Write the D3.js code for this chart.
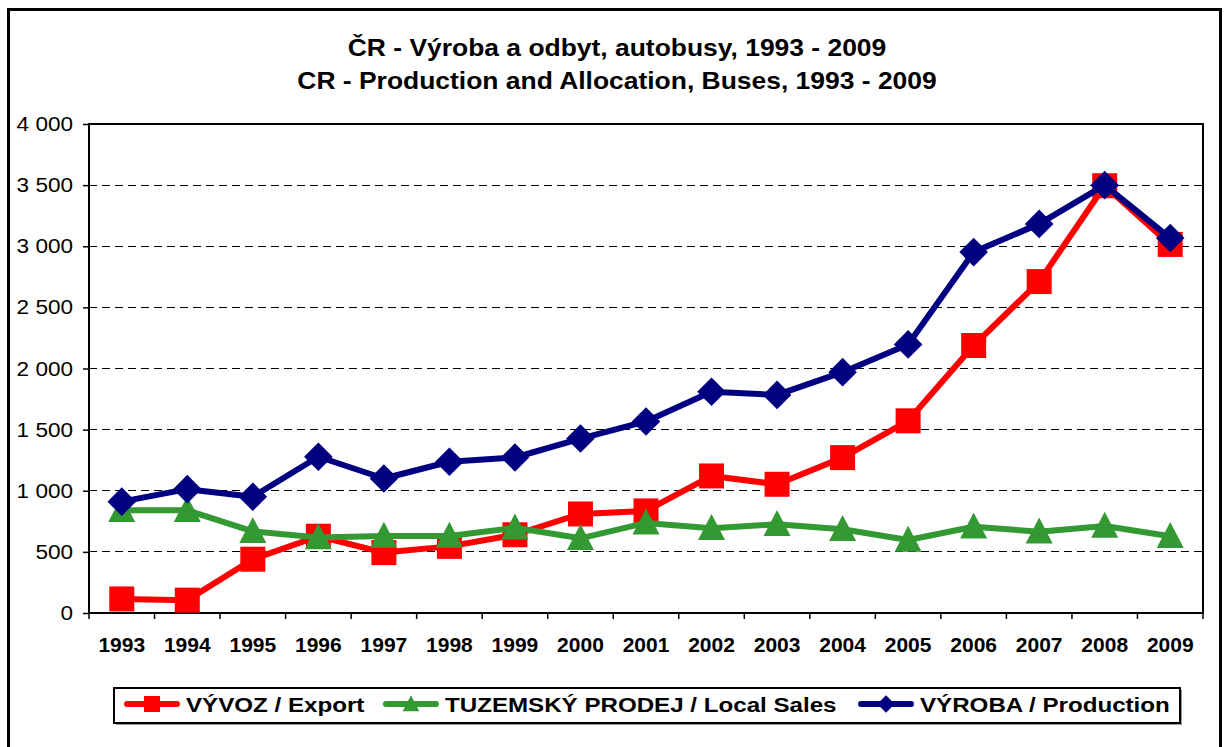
<!DOCTYPE html>
<html>
<head>
<meta charset="utf-8">
<script src="https://cdn.jsdelivr.net/npm/d3@7"></script>
<style>
  html, body { margin: 0; padding: 0; background: #fff; }
  svg { display: block; font-family: "Liberation Sans", Arial, sans-serif; }
</style>
</head>
<body>
<svg id="chart" width="1226" height="747"></svg>
<script>
const years = ["1993","1994","1995","1996","1997","1998","1999","2000","2001","2002","2003","2004","2005","2006","2007","2008","2009"];
const exportValues = [115, 105, 440, 628, 494, 545, 640, 810, 835, 1121, 1053, 1271, 1572, 2188, 2711, 3495, 3015];
const localSales   = [840, 840, 668, 617, 630, 630, 697, 611, 737, 693, 726, 685, 597, 706, 665, 712, 628];
const production   = [911, 1013, 951, 1278, 1100, 1237, 1272, 1427, 1567, 1810, 1784, 1970, 2197, 2952, 3183, 3500, 3067];
const yTicks = [0, 500, 1000, 1500, 2000, 2500, 3000, 3500, 4000];
const titleLines = ["ČR - Výroba a odbyt, autobusy, 1993 - 2009", "CR - Production and Allocation, Buses, 1993 - 2009"];
const seriesNames = ["VÝVOZ / Export", "TUZEMSKÝ PRODEJ / Local Sales", "VÝROBA / Production"];

const svg = d3.select("#chart");
const L = 89, R = 1203, T = 124, B = 613;

// outer frame
svg.append("rect").attr("x", 8.5).attr("y", 9.5).attr("width", 1212).attr("height", 770)
  .attr("fill", "#fff").attr("stroke", "#000").attr("stroke-width", 3);

// title (horizontally widened to match the reference rendering)
svg.append("g").selectAll("text").data(titleLines).join("text")
  .attr("transform", (d, i) => `translate(617,${56 + i * 33}) scale(1.15,1)`)
  .attr("text-anchor", "middle").attr("font-weight", "bold").attr("font-size", 23)
  .attr("fill", "#000").text(d => d);

const x = d3.scaleBand().domain(years).range([L, R]).padding(0);
const y = d3.scaleLinear().domain([0, 4000]).range([B, T]);
const cx = d => x(d) + x.bandwidth() / 2;

// gridlines
svg.append("g").selectAll("line").data(yTicks.filter(v => v > 0 && v < 4000)).join("line")
  .attr("x1", L).attr("x2", R).attr("y1", d => y(d)).attr("y2", d => y(d))
  .attr("stroke", "#000").attr("stroke-width", 1).attr("stroke-dasharray", "8,5")
  .attr("shape-rendering", "crispEdges");

// plot border
svg.append("rect").attr("x", L).attr("y", T).attr("width", R - L).attr("height", B - T)
  .attr("fill", "none").attr("stroke", "#000").attr("stroke-width", 2);

// y axis
const yAxis = d3.axisLeft(y).tickValues(yTicks).tickSize(6).tickPadding(0)
  .tickFormat(d => d3.format(",")(d).replace(",", " "));
const gy = svg.append("g").attr("transform", `translate(${L},0)`).call(yAxis);
gy.select(".domain").remove();
gy.selectAll(".tick line").attr("stroke", "#000").attr("stroke-width", 1.5);
gy.selectAll(".tick text")
  .attr("x", null).attr("transform", "translate(-16,0) scale(1.1,1)")
  .attr("font-size", 20.5).attr("fill", "#000")
  .attr("font-family", "Liberation Sans, Arial, sans-serif");

// x axis
const xAxis = d3.axisBottom(x).tickSize(0).tickPadding(24);
const gx = svg.append("g").attr("transform", `translate(0,${B})`).call(xAxis);
gx.select(".domain").remove();
gx.selectAll(".tick text").attr("font-size", 21).attr("font-weight", "bold").attr("fill", "#000")
  .attr("font-family", "Liberation Sans, Arial, sans-serif");
// category boundary ticks
const boundaries = years.map(d => x(d)).concat([R]);
svg.append("g").selectAll("line").data(boundaries).join("line")
  .attr("x1", d => d).attr("x2", d => d).attr("y1", B).attr("y2", B + 6)
  .attr("stroke", "#000").attr("stroke-width", 1.5);

const series = [
  { name: seriesNames[0], values: exportValues, color: "#FF0000", marker: "square" },
  { name: seriesNames[1], values: localSales, color: "#339933", marker: "triangle" },
  { name: seriesNames[2], values: production, color: "#000080", marker: "diamond" }
];

function markerPath(type, s) {
  if (type === "square") return `M${-s/2},${-s/2}h${s}v${s}h${-s}Z`;
  if (type === "triangle") return `M0,${-s*0.55}L${s*0.52},${s*0.45}L${-s*0.52},${s*0.45}Z`;
  return `M0,${-s*0.55}L${s*0.55},0L0,${s*0.55}L${-s*0.55},0Z`;
}
const markerSize = { square: 25, triangle: 26, diamond: 26 };

const line = d3.line().x((d, i) => cx(years[i])).y(d => y(d));
series.forEach(s => {
  const g = svg.append("g");
  g.append("path").datum(s.values).attr("d", line)
    .attr("fill", "none").attr("stroke", s.color).attr("stroke-width", 6)
    .attr("stroke-linejoin", "round");
  g.selectAll("path.m").data(s.values).join("path").attr("class", "m")
    .attr("transform", (d, i) => `translate(${cx(years[i])},${y(d)})`)
    .attr("d", markerPath(s.marker, markerSize[s.marker]))
    .attr("fill", s.color);
});

// legend
const lg = svg.append("g");
lg.append("rect").attr("x", 116).attr("y", 690).attr("width", 1066).attr("height", 35).attr("fill", "#999");
lg.append("rect").attr("x", 114).attr("y", 688).attr("width", 1066).attr("height", 35)
  .attr("fill", "#fff").attr("stroke", "#000").attr("stroke-width", 2);
const legendX = [124, 383, 858];
series.forEach((s, i) => {
  const gx0 = legendX[i];
  lg.append("line").attr("x1", gx0 + 3).attr("x2", gx0 + 53).attr("y1", 704).attr("y2", 704)
    .attr("stroke", s.color).attr("stroke-width", 6).attr("stroke-linecap", "round");
  lg.append("path").attr("transform", `translate(${gx0 + 28},704)`)
    .attr("d", markerPath(s.marker, 16)).attr("fill", s.color);
  lg.append("text").attr("transform", `translate(${gx0 + 62},712) scale(1.15,1)`)
    .attr("font-size", 21).attr("font-weight", "bold").attr("fill", "#000").text(s.name);
});
</script>
</body>
</html>
